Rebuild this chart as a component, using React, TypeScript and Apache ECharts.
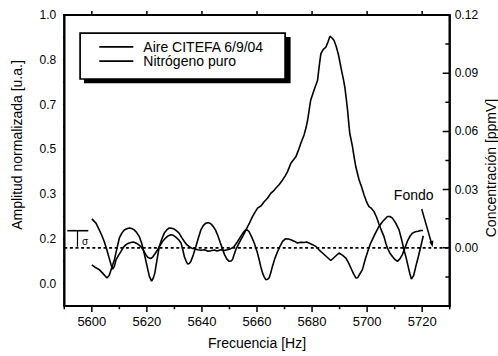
import React, { useEffect, useRef } from 'react';
import * as echarts from 'echarts';

// Frequency axis (Hz)
const FREQ_MIN = 5590;
const FREQ_MAX = 5730;
const freqLabels = [5600, 5620, 5640, 5660, 5680, 5700, 5720];
const freqMinor = [5590, 5610, 5630, 5650, 5670, 5690, 5710, 5730];

// Normalised amplitude axis (left)
const AMP_MIN = -1 / 12;
const AMP_MAX = 1;
const ampLabels = [0, 1 / 6, 2 / 6, 3 / 6, 4 / 6, 5 / 6, 1];
const ampMinor = [1 / 12, 3 / 12, 5 / 12, 7 / 12, 9 / 12, 11 / 12];

// Concentration axis (right, ppmV)
const CONC_MIN = -0.03;
const CONC_MAX = 0.12;
const concLabels = [0, 0.03, 0.06, 0.09, 0.12];
const concMinor = [-0.015, 0.015, 0.045, 0.075, 0.105];
const BACKGROUND_PPMV = 0;

const seriesNames = ['Aire CITEFA 6/9/04', 'Nitrógeno puro'];

// [frecuencia Hz, amplitud normalizada]
const aireCitefa: [number, number][] = [
  [5600.0, 0.241], [5601.5, 0.225], [5602.7, 0.2], [5603.6, 0.18], [5604.5, 0.157],
  [5605.4, 0.128], [5606.3, 0.095], [5607.0, 0.07], [5607.6, 0.054], [5608.2, 0.065],
  [5608.8, 0.089], [5609.7, 0.105], [5610.6, 0.12], [5611.5, 0.136], [5612.4, 0.145],
  [5613.3, 0.15], [5614.2, 0.153], [5615.1, 0.155], [5616.0, 0.151], [5616.9, 0.146],
  [5617.8, 0.138], [5618.7, 0.125], [5619.6, 0.108], [5620.3, 0.098], [5620.9, 0.095],
  [5621.5, 0.094], [5622.1, 0.099], [5623.0, 0.112], [5623.9, 0.126], [5624.8, 0.142],
  [5625.7, 0.157], [5626.6, 0.168], [5627.5, 0.176], [5628.7, 0.182], [5629.6, 0.18],
  [5630.5, 0.173], [5631.4, 0.165], [5632.4, 0.151], [5633.0, 0.128], [5633.6, 0.101],
  [5634.2, 0.085], [5634.8, 0.073], [5635.4, 0.075], [5636.0, 0.083], [5636.9, 0.108],
  [5637.8, 0.138], [5638.7, 0.17], [5639.6, 0.2], [5640.5, 0.216], [5641.4, 0.225],
  [5642.3, 0.227], [5643.2, 0.223], [5644.0, 0.214], [5644.9, 0.2], [5645.8, 0.178],
  [5646.7, 0.151], [5647.5, 0.128], [5648.2, 0.108], [5649.0, 0.092], [5649.9, 0.083],
  [5650.5, 0.084], [5651.1, 0.089], [5651.7, 0.108], [5652.3, 0.126], [5653.2, 0.145],
  [5654.1, 0.163], [5655.0, 0.18], [5655.9, 0.198], [5657.1, 0.222], [5658.4, 0.25],
  [5659.3, 0.266], [5660.2, 0.281], [5661.5, 0.29], [5662.6, 0.305], [5663.8, 0.318],
  [5665.0, 0.336], [5666.0, 0.345], [5666.8, 0.355], [5668.0, 0.368], [5669.3, 0.386],
  [5670.2, 0.4], [5671.1, 0.417], [5672.3, 0.448], [5673.2, 0.46], [5674.1, 0.472],
  [5675.0, 0.495], [5675.9, 0.522], [5677.1, 0.553], [5677.8, 0.58], [5678.4, 0.609],
  [5679.0, 0.65], [5679.5, 0.683], [5680.7, 0.72], [5682.0, 0.757], [5682.6, 0.81],
  [5683.2, 0.856], [5684.1, 0.872], [5685.0, 0.88], [5685.8, 0.9], [5686.5, 0.921],
  [5687.2, 0.915], [5688.0, 0.905], [5688.8, 0.882], [5689.5, 0.856], [5690.1, 0.826],
  [5690.7, 0.794], [5691.3, 0.765], [5691.9, 0.732], [5692.4, 0.69], [5692.9, 0.646],
  [5693.3, 0.6], [5693.7, 0.559], [5694.2, 0.535], [5694.7, 0.509], [5695.3, 0.47],
  [5695.9, 0.435], [5696.5, 0.41], [5697.1, 0.386], [5698.0, 0.36], [5698.9, 0.33],
  [5699.6, 0.31], [5700.1, 0.298], [5700.7, 0.287], [5701.6, 0.28], [5702.5, 0.268],
  [5703.4, 0.248], [5704.3, 0.222], [5705.2, 0.198], [5706.1, 0.176], [5706.8, 0.15],
  [5707.4, 0.132], [5708.3, 0.113], [5709.2, 0.101], [5710.1, 0.09], [5711.0, 0.083],
  [5711.9, 0.092], [5712.8, 0.108], [5713.7, 0.132], [5714.6, 0.157], [5715.5, 0.175],
  [5716.5, 0.188], [5717.5, 0.193], [5718.5, 0.195], [5719.5, 0.198], [5720.3, 0.198],
];

const nitrogenoPuro: [number, number][] = [
  [5600.0, 0.07], [5601.0, 0.062], [5602.7, 0.052], [5604.0, 0.038], [5605.5, 0.021],
  [5606.3, 0.03], [5607.0, 0.052], [5607.6, 0.07], [5608.2, 0.089], [5609.1, 0.13],
  [5610.0, 0.17], [5610.9, 0.188], [5611.8, 0.2], [5612.7, 0.204], [5613.6, 0.207],
  [5614.5, 0.205], [5615.4, 0.2], [5616.3, 0.19], [5617.2, 0.176], [5618.1, 0.15],
  [5619.0, 0.114], [5620.0, 0.068], [5620.9, 0.027], [5621.7, 0.009], [5622.3, 0.02],
  [5622.9, 0.04], [5623.7, 0.09], [5624.5, 0.138], [5625.4, 0.165], [5626.3, 0.188],
  [5627.2, 0.2], [5628.1, 0.207], [5629.0, 0.206], [5629.9, 0.203], [5630.8, 0.196],
  [5631.7, 0.188], [5632.6, 0.172], [5633.6, 0.157], [5634.5, 0.145], [5635.4, 0.138],
  [5636.3, 0.132], [5637.2, 0.13], [5638.5, 0.126], [5639.6, 0.124], [5641.0, 0.126],
  [5642.0, 0.121], [5643.2, 0.122], [5644.5, 0.125], [5645.5, 0.121], [5646.9, 0.126],
  [5648.0, 0.123], [5649.3, 0.126], [5650.5, 0.13], [5651.7, 0.138], [5652.9, 0.156],
  [5654.1, 0.176], [5655.0, 0.19], [5655.9, 0.2], [5656.5, 0.199], [5657.1, 0.194],
  [5658.0, 0.175], [5659.0, 0.151], [5660.0, 0.12], [5660.8, 0.089], [5661.4, 0.062],
  [5662.0, 0.04], [5662.6, 0.025], [5663.2, 0.015], [5663.8, 0.016], [5664.4, 0.021],
  [5665.0, 0.04], [5665.6, 0.064], [5666.5, 0.094], [5667.5, 0.12], [5668.4, 0.14],
  [5669.3, 0.157], [5670.0, 0.164], [5670.5, 0.167], [5671.4, 0.166], [5672.3, 0.163],
  [5673.5, 0.158], [5674.7, 0.151], [5675.9, 0.154], [5677.1, 0.153], [5678.0, 0.155],
  [5678.9, 0.151], [5680.2, 0.145], [5681.4, 0.138], [5682.6, 0.125], [5683.8, 0.114],
  [5685.3, 0.1], [5686.8, 0.086], [5688.3, 0.1], [5689.8, 0.114], [5691.0, 0.106],
  [5692.3, 0.095], [5693.2, 0.078], [5694.1, 0.058], [5695.0, 0.038], [5695.9, 0.021],
  [5696.6, 0.022], [5697.3, 0.035], [5698.3, 0.052], [5699.3, 0.09], [5700.3, 0.122],
  [5701.3, 0.151], [5702.8, 0.183], [5704.3, 0.213], [5705.8, 0.233], [5707.4, 0.25],
  [5708.3, 0.25], [5709.2, 0.244], [5710.4, 0.225], [5711.6, 0.2], [5712.5, 0.165],
  [5713.4, 0.126], [5714.2, 0.095], [5714.9, 0.064], [5715.5, 0.038], [5716.1, 0.017],
  [5716.9, 0.03], [5717.7, 0.064], [5718.6, 0.1], [5719.5, 0.138], [5720.4, 0.178],
];

const SANS = "'Liberation Sans', Arial, Helvetica, sans-serif";
const NARROW = "'Liberation Sans Narrow', 'Arial Narrow', 'Liberation Sans', Arial, sans-serif";
const INK = '#000';

// Plot box inside the 498 x 356 canvas
const GRID = { left: 64.3, right: 48.3, top: 15, bottom: 50 };
const PLOT_W = 498 - GRID.left - GRID.right;
const PLOT_H = 356 - GRID.top - GRID.bottom;
// axis units per screen pixel, used to size tick marks
const FREQ_PER_PX = (FREQ_MAX - FREQ_MIN) / PLOT_W;
const AMP_PER_PX = (AMP_MAX - AMP_MIN) / PLOT_H;

type Pt = [number, number] | null;

// Tick marks as broken polylines: each tick is two points followed by a gap.
function vTicks(values: number[], y: number, lenPx: number): Pt[] {
  const out: Pt[] = [];
  values.forEach((v) => {
    out.push([v, y], [v, y - lenPx * AMP_PER_PX], null);
  });
  return out;
}
function hTicks(values: number[], x: number, lenPx: number): Pt[] {
  const out: Pt[] = [];
  values.forEach((v) => {
    out.push([x, v], [x + lenPx * FREQ_PER_PX, v], null);
  });
  return out;
}

function strokeSeries(name: string, yAxisIndex: number, data: Pt[], width: number) {
  return {
    type: 'line',
    name,
    yAxisIndex,
    data,
    symbol: 'none',
    silent: true,
    clip: false,
    connectNulls: false,
    lineStyle: { color: INK, width },
    z: 5,
  };
}

function text(x: number, y: number, content: string, size: number, rotation = 0) {
  return {
    type: 'text',
    z: 5,
    silent: true,
    x,
    y,
    rotation,
    style: {
      text: content,
      fill: INK,
      font: `${size}px ${SANS}`,
      textAlign: 'center',
      textVerticalAlign: 'middle',
    },
  };
}

function seg(x1: number, y1: number, x2: number, y2: number, width = 1.5) {
  return {
    type: 'line',
    z: 6,
    silent: true,
    shape: { x1, y1, x2, y2 },
    style: { stroke: INK, lineWidth: width },
  };
}

function buildOption(): any {
  const axisParts = { axisLine: { show: false, onZero: false }, axisTick: { show: false }, splitLine: { show: false } };
  const frame: Pt[] = [
    [FREQ_MIN, AMP_MIN],
    [FREQ_MAX, AMP_MIN],
    [FREQ_MAX, AMP_MAX],
    [FREQ_MIN, AMP_MAX],
    [FREQ_MIN, AMP_MIN],
  ];
  return {
    animation: false,
    backgroundColor: '#fff',
    grid: {
      ...GRID,
      show: true,
      borderColor: INK,
      borderWidth: 2,
      backgroundColor: 'transparent',
    },
    legend: {
      data: seriesNames.map((name) => ({ name, icon: 'rect' })),
      orient: 'vertical',
      left: 99.3,
      top: 39.7,
      padding: 0,
      itemGap: 0,
      itemWidth: 34,
      itemHeight: 1.6,
      selectedMode: false,
      z: 10,
      itemStyle: { color: INK, borderWidth: 0 },
      textStyle: {
        color: INK,
        fontSize: 14,
        fontFamily: SANS,
        lineHeight: 14.3,
        padding: [0, 0, 0, 5],
      },
    },
    xAxis: [
      {
        type: 'value',
        position: 'bottom',
        min: FREQ_MIN,
        max: FREQ_MAX,
        ...axisParts,
        axisLabel: {
          show: true,
          customValues: freqLabels,
          formatter: (v: number) => String(v),
          margin: 9,
          color: INK,
          fontSize: 13,
          fontFamily: NARROW,
        },
      },
    ],
    yAxis: [
      {
        type: 'value',
        position: 'left',
        min: AMP_MIN,
        max: AMP_MAX,
        ...axisParts,
        axisLabel: {
          show: true,
          customValues: ampLabels,
          formatter: (v: number) => v.toFixed(1),
          margin: 8,
          color: INK,
          fontSize: 12,
          fontFamily: SANS,
        },
      },
      {
        type: 'value',
        position: 'right',
        min: CONC_MIN,
        max: CONC_MAX,
        ...axisParts,
        axisLabel: {
          show: true,
          customValues: concLabels,
          formatter: (v: number) => v.toFixed(2),
          margin: 5,
          color: INK,
          fontSize: 12,
          fontFamily: NARROW,
        },
      },
    ],
    series: [
      {
        type: 'line',
        name: seriesNames[0],
        data: aireCitefa,
        symbol: 'none',
        lineStyle: { color: INK, width: 1.6 },
        z: 3,
      },
      {
        type: 'line',
        name: seriesNames[1],
        data: nitrogenoPuro,
        symbol: 'none',
        lineStyle: { color: INK, width: 1.6 },
        z: 3,
      },
      {
        type: 'line',
        name: 'Fondo',
        yAxisIndex: 1,
        data: [
          [FREQ_MIN, BACKGROUND_PPMV],
          [FREQ_MAX, BACKGROUND_PPMV],
        ],
        symbol: 'none',
        silent: true,
        lineStyle: { color: INK, width: 1.8, type: [3, 2.6] },
        z: 2,
      },
      // plot frame
      strokeSeries('frame', 0, frame, 2),
      // bottom ticks point outward, top ticks inward
      strokeSeries('ticks-bottom', 0, vTicks(freqLabels, AMP_MIN, 6), 1.5),
      strokeSeries('ticks-bottom-minor', 0, vTicks(freqMinor, AMP_MIN, 3.3), 1.5),
      strokeSeries('ticks-top', 0, vTicks(freqLabels, AMP_MAX, -4), 1.5),
      // left ticks outward
      strokeSeries('ticks-left', 0, hTicks(ampLabels, FREQ_MIN, -6), 1.5),
      strokeSeries('ticks-left-minor', 0, hTicks(ampMinor, FREQ_MIN, -3.7), 1.5),
      // right ticks inward, on the concentration scale
      strokeSeries('ticks-right', 1, hTicks(concLabels, FREQ_MAX, -7), 1.5),
      strokeSeries('ticks-right-minor', 1, hTicks(concMinor, FREQ_MAX, -4.3), 1.5),
    ],
    graphic: [
      // legend frame with drop shadow
      {
        type: 'rect',
        z: 1,
        silent: true,
        shape: { x: 84, y: 37, width: 206.6, height: 46.3 },
        style: { fill: INK },
      },
      {
        type: 'rect',
        z: 2,
        silent: true,
        shape: { x: 80.1, y: 33.1, width: 205, height: 45.9 },
        style: { fill: '#fff', stroke: INK, lineWidth: 1.7 },
      },
      // sigma marker
      seg(67.3, 230.7, 88.3, 230.7, 1.6),
      seg(77.5, 230.7, 77.5, 246.7, 1.2),
      text(85, 241.5, 'σ', 10),
      // background label and arrow
      text(413.7, 195, 'Fondo', 14),
      seg(421.7, 209, 431.3, 242.5, 1.5),
      {
        type: 'polygon',
        z: 5,
        silent: true,
        shape: {
          points: [
            [432.6, 247.2],
            [433.4, 240.6],
            [429.3, 241.7],
          ],
        },
        style: { fill: INK },
      },
      // axis titles
      text(257, 342.5, 'Frecuencia [Hz]', 14),
      text(16.6, 145, 'Amplitud normalizada [u.a.]', 14, Math.PI / 2),
      text(490.6, 168, 'Concentración [ppmV]', 14, Math.PI / 2),
    ],
  };
}

export default function App() {
  const ref = useRef<HTMLDivElement>(null);

  useEffect(() => {
    if (!ref.current) return;
    const chart = echarts.init(ref.current, null, { renderer: 'svg' });
    chart.setOption(buildOption());
    return () => chart.dispose();
  }, []);

  return (
    <div
      ref={ref}
      style={{ position: 'fixed', left: 0, top: 0, width: 498, height: 356, background: '#fff' }}
    />
  );
}
